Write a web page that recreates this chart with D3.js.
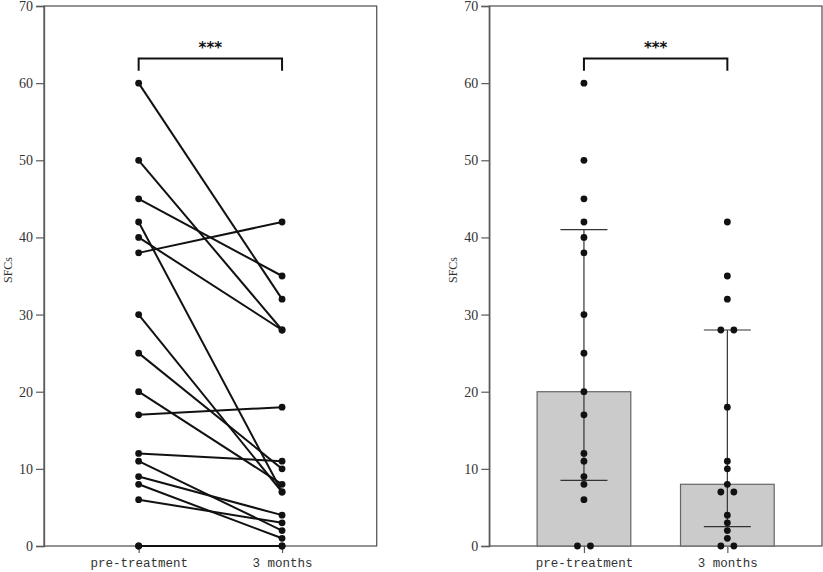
<!DOCTYPE html>
<html><head><meta charset="utf-8">
<script src="https://cdn.jsdelivr.net/npm/d3@7"></script>
<style>body{margin:0;background:#fff}svg{display:block}</style>
</head><body>
<svg id="c" width="823" height="572"></svg>
<script>
const categories = ["pre-treatment", "3 months"];
const preValues  = [60, 50, 45, 42, 40, 38, 30, 25, 20, 17, 12, 11, 9, 8, 6, 0, 0];
const postValues = [32, 28, 35, 7, 28, 42, 7, 10, 8, 18, 11, 2, 4, 1, 3, 0, 0];
const medians = [20, 8];
const q1s = [8.5, 2.5];
const q3s = [41, 28];
const yTicks = [0, 10, 20, 30, 40, 50, 60, 70];
const sigLabel = "***";
const yLabel = "SFCs";

(function () {
const svg = d3.select("#c");
const plotTop = 6, plotBottom = 546, pw = 332.7;
const panels = [44, 489.3];
const y = d3.scaleLinear().domain([0, 70]).range([plotBottom, plotTop]);
const frameColor = "#5a5a5a";

panels.forEach((x0, pi) => {
  const g = svg.append("g");
  const x = d3.scalePoint().domain(categories).range([x0, x0 + pw]).padding(0.66);

  g.append("rect").attr("x", x0).attr("y", plotTop).attr("width", pw).attr("height", plotBottom - plotTop)
    .attr("fill", "none").attr("stroke", frameColor).attr("stroke-width", 1.3);

  const ya = g.append("g").attr("transform", `translate(${x0},0)`)
    .call(d3.axisLeft(y).tickValues(yTicks).tickSize(8).tickPadding(3));
  ya.select(".domain").attr("stroke", frameColor).attr("stroke-width", 1.3);
  ya.selectAll(".tick line").attr("stroke", frameColor).attr("stroke-width", 1.2);
  ya.selectAll(".tick text").attr("font-family", "Liberation Serif").attr("font-size", 14).attr("fill", "#333");

  const xa = g.append("g").attr("transform", `translate(0,${plotBottom})`)
    .call(d3.axisBottom(x).tickSize(7).tickPadding(5));
  xa.select(".domain").remove();
  xa.selectAll(".tick line").attr("stroke", frameColor).attr("stroke-width", 1.2);
  xa.selectAll(".tick text").attr("font-family", "Liberation Mono").attr("font-size", 12.5).attr("fill", "#333");

  g.append("text").attr("transform", `translate(${x0 - 32},${(plotTop + plotBottom) / 2 - 6}) rotate(-90)`)
    .attr("text-anchor", "middle").attr("font-family", "Liberation Serif").attr("font-size", 12)
    .attr("fill", "#333").text(yLabel);

  if (pi === 0) {
    preValues.forEach((v, i) => {
      g.append("line").attr("x1", x(categories[0])).attr("y1", y(v))
        .attr("x2", x(categories[1])).attr("y2", y(postValues[i]))
        .attr("stroke", "#111").attr("stroke-width", 2);
    });
    [preValues, postValues].forEach((arr, ci) => {
      g.selectAll(null).data(arr).enter().append("circle")
        .attr("cx", x(categories[ci])).attr("cy", d => y(d)).attr("r", 3.4).attr("fill", "#111");
    });
  } else {
    const bw = 93.7;
    g.selectAll(null).data(medians).enter().append("rect")
      .attr("x", (d, i) => x(categories[i]) - bw / 2).attr("y", d => y(d))
      .attr("width", bw).attr("height", d => plotBottom - y(d))
      .attr("fill", "#cbcbcb").attr("stroke", "#666").attr("stroke-width", 1.2);
    categories.forEach((c, i) => {
      const cx = x(c);
      g.append("line").attr("x1", cx).attr("x2", cx).attr("y1", y(q1s[i])).attr("y2", y(q3s[i]))
        .attr("stroke", "#333").attr("stroke-width", 1.2);
      [q1s[i], q3s[i]].forEach(v => {
        g.append("line").attr("x1", cx - 23.5).attr("x2", cx + 23.5).attr("y1", y(v)).attr("y2", y(v))
          .attr("stroke", "#333").attr("stroke-width", 1.2);
      });
    });
    [preValues, postValues].forEach((arr, ci) => {
      const counts = d3.rollup(arr, v => v.length, d => d);
      const seen = new Map();
      arr.forEach(v => {
        const n = counts.get(v);
        const k = seen.get(v) || 0; seen.set(v, k + 1);
        const off = (k - (n - 1) / 2) * 13;
        g.append("circle").attr("cx", x(categories[ci]) + off).attr("cy", y(v)).attr("r", 3.4).attr("fill", "#111");
      });
    });
  }

  const bx1 = x(categories[0]), bx2 = x(categories[1]);
  const by = y(63.2), bt = y(61.6);
  g.append("path").attr("d", `M${bx1},${bt}V${by}H${bx2}V${bt}`)
    .attr("fill", "none").attr("stroke", "#111").attr("stroke-width", 2);
  g.append("text").attr("x", (bx1 + bx2) / 2).attr("y", by - 5).attr("text-anchor", "middle")
    .attr("font-family", "DejaVu Sans").attr("font-weight", "bold").attr("font-size", 15)
    .attr("fill", "#111").text(sigLabel);
});
})();
</script>
</body></html>
